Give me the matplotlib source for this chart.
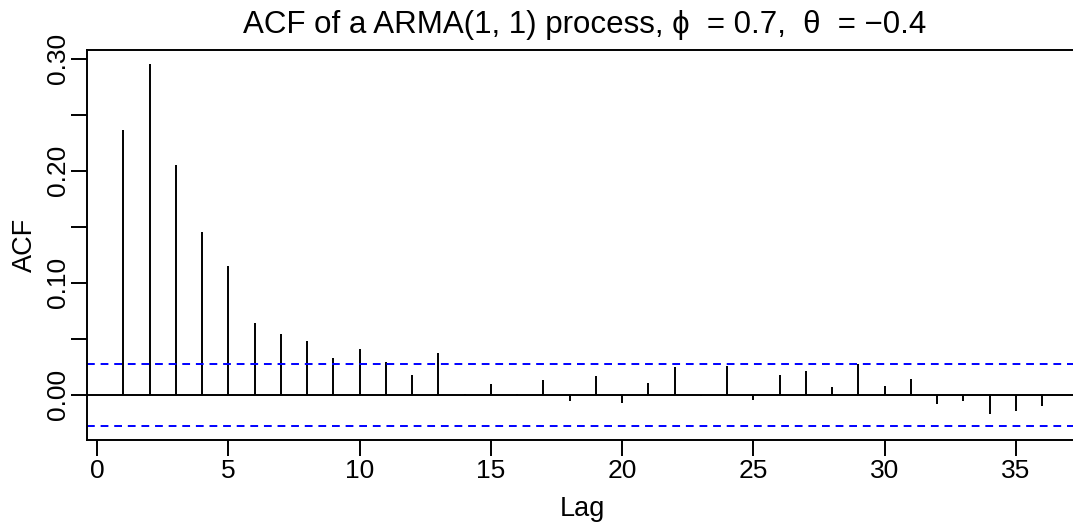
import matplotlib
matplotlib.use("Agg")
import matplotlib.pyplot as plt
import numpy as np

plt.rcParams['font.family'] = ['Liberation Sans', 'DejaVu Sans']

# sample ACF of the simulated ARMA(1,1) series
lags = list(range(1, 37))
acf_vals = [0.2360, 0.2947, 0.2047, 0.1447, 0.1144, 0.0639, 0.0541, 0.0475,
            0.0330, 0.0407, 0.0291, 0.0172, 0.0368, 0.0008, 0.0098, 0.0005,
            0.0134, -0.0060, 0.0166, -0.0080, 0.0107, 0.0247, -0.0012, 0.0256,
            -0.0045, 0.0178, 0.0211, 0.0065, 0.0273, 0.0080, 0.0143, -0.0085,
            -0.0060, -0.0178, -0.0149, -0.0104]
conf_bound = 0.0277
x_ticks = [0, 5, 10, 15, 20, 25, 30, 35]
y_ticks = [0.00, 0.05, 0.10, 0.15, 0.20, 0.25, 0.30]
y_labels = ["0.00", "", "0.10", "", "0.20", "", "0.30"]

fig = plt.figure(figsize=(10.73, 5.24), dpi=100)
ax = fig.add_axes([0.0808, 0.1603, 0.9246, 0.7443])

lw = 1.4
ax.vlines(lags, 0, acf_vals, color="black", lw=lw)
ax.axhline(0, color="black", lw=lw)
for b in (conf_bound, -conf_bound):
    ax.axhline(b, color="#0000FF", lw=lw, ls=(0, (4, 3)))

ax.set_xlim(-0.4, 37.4)
ax.set_ylim(-0.0406, 0.3076)
ax.set_xticks(x_ticks)
ax.set_yticks(y_ticks)
ax.set_yticklabels(y_labels, rotation=90, ha="center", va="baseline",
                   rotation_mode="anchor")

for s in ax.spines.values():
    s.set_linewidth(lw)
ax.tick_params(axis="both", direction="out", length=11.5, width=lw,
               labelsize=19, colors="black")
ax.tick_params(axis="x", pad=2)
ax.tick_params(axis="y", pad=4.3)

fig.text(0.543, 0.0158, "Lag", fontsize=19.5, ha="center", va="baseline")
fig.text(32 / 1073, 0.5324, "ACF", fontsize=19.5, rotation=90,
         rotation_mode="anchor", ha="center", va="baseline")
fig.text(0.5447, 0.9365,
         "ACF of a ARMA(1, 1) process, \u03d5  = 0.7,  \u03b8  = \u22120.4",
         fontsize=22.5, ha="center", va="baseline")

fig.savefig("out.png", dpi=100)
